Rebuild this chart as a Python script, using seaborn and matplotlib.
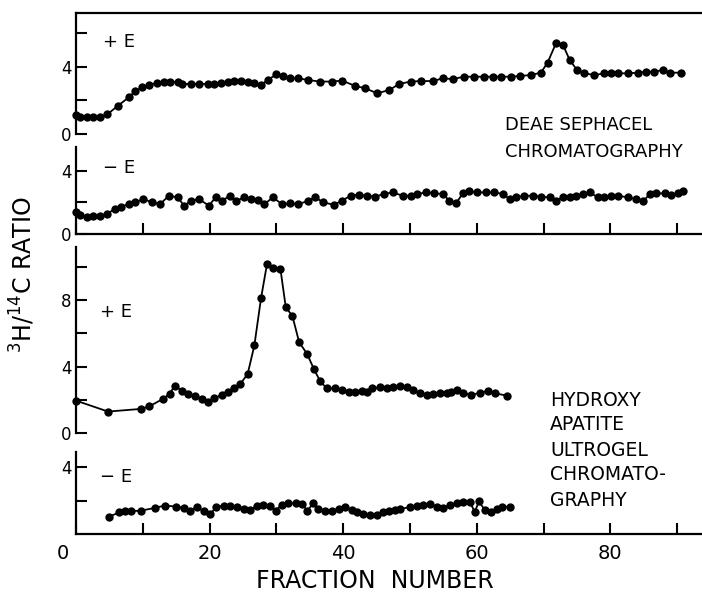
import matplotlib
matplotlib.use("Agg")
import matplotlib.pyplot as plt
import matplotlib.transforms as mtransforms
import seaborn as sns
import pandas as pd

# ---------------- data ----------------
deae_plus_x = [0, 0.6, 1.6, 2.6, 3.6, 4.7, 6.3, 7.9, 8.9, 9.9, 10.9, 12.1, 13.1, 14.1, 15.2,
               15.9, 17.2, 18.4, 19.7, 20.7, 21.7, 22.7, 23.7, 24.7, 25.7, 26.7, 27.7, 28.7,
               30.0, 31.0, 32.0, 33.3, 34.8, 36.5, 38.3, 39.8, 41.8, 43.3, 45.1, 46.9, 48.4,
               50.1, 51.6, 53.4, 54.9, 56.4, 58.1, 59.6, 61.1, 62.4, 63.6, 65.1, 66.4, 68.1,
               69.6, 70.6, 71.9, 72.9, 73.9, 75.0, 76.1, 77.6, 79.1, 80.1, 81.1, 82.6, 84.1,
               85.4, 86.6, 87.9, 88.9, 90.6]
deae_plus_y = [1.13, 1.03, 1.03, 1.03, 1.03, 1.17, 1.69, 2.18, 2.56, 2.78, 2.92, 3.02, 3.10, 3.12,
               3.08, 2.98, 2.98, 2.98, 2.98, 2.98, 3.06, 3.12, 3.18, 3.18, 3.12, 3.02, 2.92, 3.21,
               3.55, 3.45, 3.31, 3.31, 3.21, 3.12, 3.12, 3.18, 2.86, 2.72, 2.42, 2.62, 2.98, 3.12,
               3.15, 3.15, 3.31, 3.27, 3.41, 3.41, 3.41, 3.41, 3.41, 3.41, 3.45, 3.51, 3.65, 4.25,
               5.44, 5.30, 4.41, 3.81, 3.61, 3.51, 3.61, 3.61, 3.61, 3.61, 3.65, 3.71, 3.71, 3.81,
               3.65, 3.65]

deae_minus_x = [0, 0.6, 1.6, 2.6, 3.6, 4.6, 5.8, 6.8, 7.9, 8.9, 10.1, 11.4, 12.6, 13.9, 15.2,
                16.2, 17.2, 18.4, 19.9, 20.9, 21.9, 23.0, 24.0, 25.2, 26.2, 27.2, 28.2, 29.5,
                30.8, 32.0, 33.3, 34.8, 35.8, 37.0, 38.6, 39.8, 41.1, 42.3, 43.6, 44.8, 46.1,
                47.4, 48.9, 50.1, 51.1, 52.4, 53.6, 54.9, 55.9, 56.9, 57.9, 58.9, 60.1, 61.4,
                62.6, 63.9, 64.9, 65.9, 67.1, 68.4, 69.6, 70.9, 71.9, 72.9, 73.9, 74.9, 75.9,
                76.9, 78.1, 79.1, 80.1, 81.1, 82.6, 83.9, 84.9, 85.9, 86.9, 88.1, 89.1, 90.1, 90.9]
deae_minus_y = [1.37, 1.22, 1.09, 1.16, 1.16, 1.26, 1.58, 1.73, 1.89, 2.0, 2.21, 2.0, 1.89, 2.42,
                2.32, 1.79, 2.1, 2.21, 1.79, 2.32, 2.1, 2.42, 2.1, 2.32, 2.21, 2.15, 1.89, 2.32,
                1.89, 1.94, 1.89, 2.1, 2.32, 2.0, 1.85, 2.1, 2.42, 2.48, 2.42, 2.36, 2.53, 2.63,
                2.42, 2.42, 2.53, 2.63, 2.57, 2.53, 2.11, 1.94, 2.57, 2.69, 2.63, 2.63, 2.63, 2.53,
                2.21, 2.32, 2.42, 2.42, 2.36, 2.32, 2.06, 2.36, 2.32, 2.42, 2.53, 2.63, 2.32, 2.36,
                2.42, 2.42, 2.32, 2.21, 2.06, 2.53, 2.57, 2.57, 2.48, 2.57, 2.74]

hap_plus_x = [0, 4.8, 9.7, 11.0, 13.0, 14.0, 14.8, 15.8, 16.8, 17.8, 18.8, 19.7, 20.7, 21.8, 22.8,
              23.7, 24.6, 25.7, 26.7, 27.7, 28.6, 29.5, 30.6, 31.4, 32.4, 33.4, 34.6, 35.6, 36.5,
              37.5, 38.8, 39.8, 40.8, 41.8, 42.8, 43.5, 44.3, 45.5, 46.5, 47.5, 48.5, 49.5, 50.5,
              51.5, 52.5, 53.5, 54.5, 55.5, 56.2, 57.0, 58.0, 59.2, 60.5, 61.7, 62.7, 64.5]
hap_plus_y = [1.95, 1.29, 1.45, 1.61, 2.05, 2.35, 2.86, 2.55, 2.35, 2.21, 2.05, 1.89, 2.09, 2.29,
              2.49, 2.69, 2.95, 3.56, 5.27, 8.12, 10.19, 9.93, 9.89, 7.58, 7.04, 5.47, 4.76, 3.86,
              3.16, 2.69, 2.69, 2.61, 2.49, 2.49, 2.55, 2.45, 2.69, 2.75, 2.69, 2.75, 2.81, 2.75,
              2.59, 2.39, 2.29, 2.35, 2.39, 2.43, 2.49, 2.59, 2.39, 2.29, 2.43, 2.53, 2.39, 2.25]

hap_minus_x = [5.0, 6.5, 7.3, 8.2, 9.8, 11.8, 13.3, 15.0, 16.1, 17.1, 18.1, 19.1, 20.1, 21.0, 22.1,
               23.1, 24.1, 25.1, 26.1, 27.1, 28.0, 29.0, 29.9, 30.8, 31.8, 32.9, 33.9, 34.6, 35.5,
               36.3, 37.3, 38.3, 39.4, 40.3, 41.3, 42.0, 43.0, 44.0, 45.0, 46.0, 46.8, 47.8, 48.5,
               50.0, 51.0, 52.0, 53.0, 54.0, 55.0, 56.0, 57.0, 58.0, 59.0, 59.7, 60.3, 61.2, 62.2,
               63.0, 63.7, 64.9]
hap_minus_y = [1.04, 1.30, 1.36, 1.36, 1.40, 1.56, 1.70, 1.64, 1.56, 1.40, 1.60, 1.36, 1.20, 1.60,
               1.70, 1.66, 1.60, 1.50, 1.44, 1.70, 1.76, 1.70, 1.40, 1.76, 1.84, 1.84, 1.80, 1.36,
               1.84, 1.50, 1.40, 1.40, 1.50, 1.60, 1.44, 1.30, 1.20, 1.16, 1.16, 1.30, 1.40, 1.44,
               1.50, 1.60, 1.68, 1.74, 1.80, 1.64, 1.54, 1.74, 1.84, 1.94, 1.90, 1.30, 1.95, 1.44,
               1.34, 1.48, 1.60, 1.64]

x_ticks = [0, 10, 20, 30, 40, 50, 60, 70, 80, 90]
x_tick_labels = ["0", "", "20", "", "40", "", "60", "", "80", ""]

panel_labels = ["+ E", "\u2212 E", "+ E", "\u2212 E"]
deae_text = ["DEAE SEPHACEL", "CHROMATOGRAPHY"]
hap_text = ["HYDROXY", "APATITE", "ULTROGEL", "CHROMATO-", "GRAPHY"]
y_label = r"$^{3}$H/$^{14}$C RATIO"
x_label = "FRACTION  NUMBER"

# ---------------- style ----------------
sns.set_style("white")
plt.rcParams["font.family"] = ["DejaVu Sans"]

W, H = 702, 596
fig = plt.figure(figsize=(W / 100, H / 100), dpi=100)
fig.patch.set_facecolor("white")


def box(top, bottom, left=76, right=702):
    return [left / W, 1 - bottom / H, (right - left) / W, (bottom - top) / H]


def fx(px):
    return px / W


def fy(py):
    return 1 - py / H


panels = [
    dict(x=deae_plus_x, y=deae_plus_y, top=13, bottom=134, ymax=7.2,
         yticks=[0, 2, 4, 6], ylabs=["0", "", "4", ""], topsp=True, botsp=False,
         lab=panel_labels[0], labxy=(103, 42)),
    dict(x=deae_minus_x, y=deae_minus_y, top=147, bottom=234, ymax=5.5,
         yticks=[0, 2, 4], ylabs=["0", "", "4"], topsp=False, botsp=True,
         lab=panel_labels[1], labxy=(103, 168)),
    dict(x=hap_plus_x, y=hap_plus_y, top=247, bottom=433, ymax=11.2,
         yticks=[0, 2, 4, 6, 8, 10], ylabs=["0", "", "4", "", "8", ""], topsp=False, botsp=False,
         lab=panel_labels[2], labxy=(100, 312)),
    dict(x=hap_minus_x, y=hap_minus_y, top=452, bottom=534, ymax=4.9,
         yticks=[2, 4], ylabs=["", "4"], topsp=False, botsp=True,
         lab=panel_labels[3], labxy=(100, 477)),
]

axes = []
for i, p in enumerate(panels):
    ax = fig.add_axes(box(p["top"], p["bottom"]))
    ax.set_facecolor("none")
    df = pd.DataFrame({"fraction": p["x"], "ratio": p["y"]})
    sns.lineplot(data=df, x="fraction", y="ratio", ax=ax, color="black",
                 marker="o", markersize=6, markeredgewidth=0, linewidth=1.3,
                 estimator=None, sort=False)
    for ln in ax.lines:
        ln.set_clip_on(False)
    ax.set_xlim(0, 626 / 6.68)
    ax.set_ylim(0, p["ymax"])
    ax.set_xlabel("")
    ax.set_ylabel("")
    for s in ["left", "right", "top", "bottom"]:
        ax.spines[s].set_color("black")
        ax.spines[s].set_linewidth(1.6)
    ax.spines["right"].set_visible(False)
    ax.spines["top"].set_visible(p["topsp"])
    ax.spines["bottom"].set_visible(p["botsp"])
    ax.set_yticks(p["yticks"])
    ax.set_yticklabels(p["ylabs"])
    ax.tick_params(axis="y", direction="in", length=8, width=1.5, pad=3,
                   labelsize=12, colors="black", left=True)
    if p["botsp"]:
        ax.set_xticks(x_ticks)
        if i == 3:
            ax.set_xticklabels(x_tick_labels)
        else:
            ax.set_xticklabels([""] * len(x_ticks))
        ax.tick_params(axis="x", direction="in", length=8, width=1.5, pad=7,
                       labelsize=14, colors="black", bottom=True)
    else:
        ax.set_xticks([])
    ax.grid(False)
    fig.text(fx(p["labxy"][0]), fy(p["labxy"][1]), p["lab"], fontsize=13,
             ha="left", va="center", color="black")
    axes.append(ax)

# shift the x "0" label a bit to the left as in the reference
lab0 = axes[3].get_xticklabels()[0]
lab0.set_transform(lab0.get_transform() + mtransforms.ScaledTranslation(-13 / 100, 0, fig.dpi_scale_trans))

for k, t in enumerate(deae_text):
    fig.text(fx(505), fy(125 + 27 * k), t, fontsize=13, ha="left", va="center", color="black")
for k, t in enumerate(hap_text):
    fig.text(fx(550), fy(400 + 25 * k), t, fontsize=13.5, ha="left", va="center", color="black")

fig.text(fx(23), fy(275), y_label, rotation=90, fontsize=17, ha="center", va="center", color="black")
fig.text(fx(375), fy(581), x_label, fontsize=17, ha="center", va="center", color="black")

fig.savefig("out.png", dpi=100, facecolor="white")
